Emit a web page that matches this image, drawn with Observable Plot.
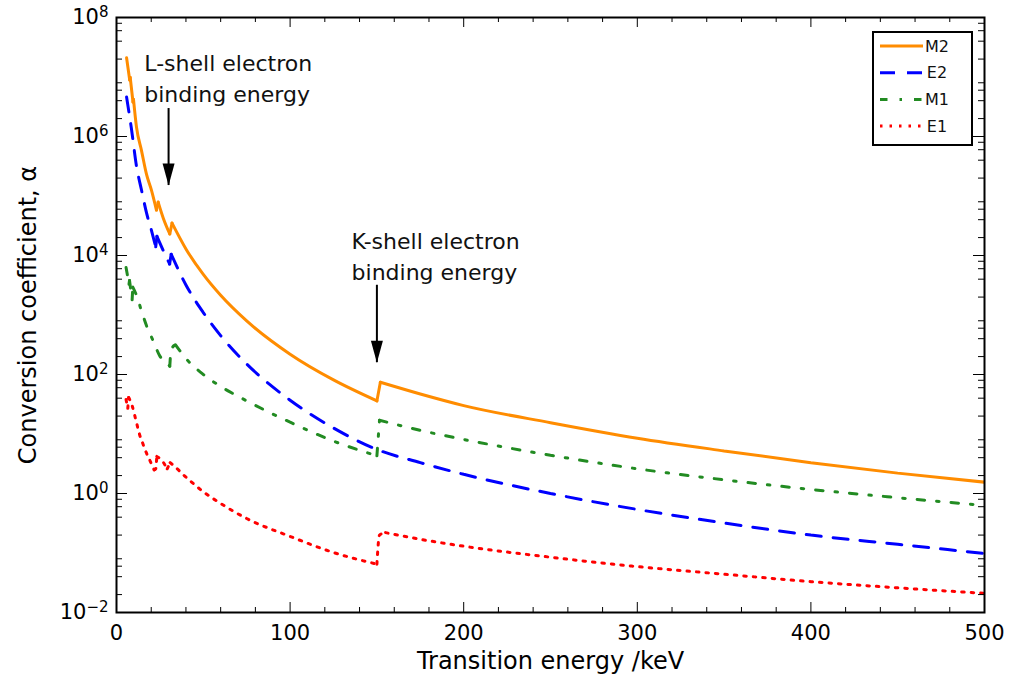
<!DOCTYPE html>
<html><head><meta charset="utf-8">
<script src="https://cdn.jsdelivr.net/npm/d3@7"></script>
<script src="https://cdn.jsdelivr.net/npm/@observablehq/plot@0.6"></script>
<style>body{margin:0;background:#fff;} svg{display:block;}</style>
</head><body><div id="chart"></div>
<script>
// ---- Series data (transition energy in keV, conversion coefficient alpha) ----
const seriesNames = ["M2", "E2", "M1", "E1"];
const seriesColors = ["#ff8c00", "#0000ff", "#228b22", "#ff0000"];
const seriesDash = [null, "15,12", "7.5,12,2.5,12", "2.5,7"];

const m2Energy = [5.8, 7.6, 7.9, 9.5, 9.8, 11.5, 14.4, 17.3, 20.2, 23.0, 24.0, 27.0, 30.7, 32.0, 40, 50, 60, 75, 100, 125, 150, 152, 175, 200, 250, 300, 350, 400, 450, 500];
const m2Alpha  = [2.1e7, 8.9e6, 9.8e6, 3.8e6, 4.2e6, 1.45e6, 5.8e5, 2.3e5, 1.23e5, 5.8e4, 7.9e4, 4.2e4, 2.3e4, 3.5e4, 1.29e4, 4.8e3, 2.14e3, 794, 219, 81, 36, 74, 47, 30, 15.5, 8.5, 5.2, 3.3, 2.2, 1.55];

const e2Energy = [5.8, 8.6, 11.5, 14.4, 17.3, 20.2, 22.6, 23.3, 27.0, 30.6, 31.5, 40, 50, 60, 75, 100, 125, 150, 175, 200, 250, 300, 350, 400, 450, 500];
const e2Alpha  = [4.6e6, 1.35e6, 3.2e5, 1.26e5, 5.2e4, 2.6e4, 1.4e4, 2.1e4, 1.2e4, 7.2e3, 1.05e4, 3.2e3, 1.1e3, 450, 150, 37, 12.6, 5.5, 3.3, 2.1, 1.0, 0.54, 0.32, 0.2, 0.14, 0.098];

const m1Energy = [5.5, 7.2, 7.5, 9.0, 9.4, 11.5, 14.4, 17.3, 21.1, 25, 28, 30.7, 31.5, 34, 40, 50, 60, 75, 100, 125, 150, 151.5, 175, 200, 250, 300, 350, 400, 450, 500];
const m1Alpha  = [6.3e3, 3.3e3, 3.8e3, 1.8e3, 2.95e3, 2.15e3, 1.17e3, 660, 370, 204, 166, 138, 263, 316, 186, 100, 63, 36, 15.8, 7.6, 4.3, 17, 11.5, 8.1, 4.4, 2.6, 1.7, 1.17, 0.85, 0.63];

const e1Energy = [5.5, 6.5, 7.0, 9.0, 10.4, 11.7, 13.2, 15, 17.1, 19.4, 21.7, 22.6, 23.2, 26.1, 29.2, 30.9, 35, 39, 43, 50, 60, 75, 100, 125, 150, 151.5, 155, 175, 200, 250, 300, 350, 400, 450, 500];
const e1Alpha  = [38, 27, 41, 30, 21, 14.8, 10, 7.1, 4.9, 3.5, 2.5, 2.6, 4.2, 3.6, 2.6, 3.3, 2.6, 2.0, 1.58, 1.07, 0.68, 0.38, 0.19, 0.102, 0.065, 0.2, 0.22, 0.17, 0.13, 0.085, 0.059, 0.044, 0.033, 0.026, 0.021];

// ---- Axis ticks ----
const xMajorTicks = [0, 100, 200, 300, 400, 500];
const xMinorTicks = [20, 40, 60, 80, 120, 140, 160, 180, 220, 240, 260, 280, 320, 340, 360, 380, 420, 440, 460, 480];
const yMajorTicks = [1e-2, 1e0, 1e2, 1e4, 1e6, 1e8];
const yMinorTicks = [-2, -1, 0, 1, 2, 3, 4, 5, 6, 7].flatMap(k => [2, 4, 6, 8].map(m => m * Math.pow(10, k)));

// ---- Annotations ----
const annotationTexts = ["L-shell electron\nbinding energy", "K-shell electron\nbinding energy"];
const annotationX = [16, 135.4];
const annotationY = [3.0e7, 3.0e4];
const arrowX = [30, 150];
const arrowFrom = [2.95e6, 3.16e3];
const arrowTo = [1.5e5, 158];

const xLabel = "Transition energy /keV";
const yLabel = "Conversion coefficient, \u03b1";

// ---- Build ----
const W = 1010, H = 689, mL = 116, mR = 26, mT = 17, mB = 77;
const plotW = W - mL - mR, plotH = H - mT - mB;
const FONT = "DejaVu Sans";

// split each series into monotonic pieces so that absorption-edge jumps keep sharp corners
function pieces(es, as, name) {
  const rows = [];
  let seg = 0, dir = 0;
  for (let i = 0; i < es.length; i++) {
    if (i > 0) {
      const d = Math.sign(as[i] - as[i - 1]);
      if (dir !== 0 && d !== dir) { seg++; rows.push({e: es[i - 1], a: as[i - 1], z: name + seg}); }
      dir = d;
    }
    rows.push({e: es[i], a: as[i], z: name + seg});
  }
  return rows;
}
const series = [
  [m2Energy, m2Alpha], [e2Energy, e2Alpha], [m1Energy, m1Alpha], [e1Energy, e1Alpha]
].map(([es, as], k) => pieces(es, as, seriesNames[k]));

const downTriangle = {
  draw(ctx) { ctx.moveTo(-6, -22); ctx.lineTo(6, -22); ctx.lineTo(0, 0); ctx.closePath(); }
};

const arrows = arrowX.map((x, i) => ({x, y1: arrowFrom[i], y2: arrowTo[i]}));
const notes = annotationTexts.map((t, i) => ({t, x: annotationX[i], y: annotationY[i]}));

const marks = [];
for (let k = series.length - 1; k >= 0; k--) {
  marks.push(Plot.line(series[k], {
    x: "e", y: "a", z: "z", stroke: seriesColors[k], strokeWidth: 3, curve: "monotone-x",
    strokeDasharray: seriesDash[k] ?? undefined, strokeLinejoin: "miter", clip: true
  }));
}
marks.push(
  Plot.ruleX(xMajorTicks, {stroke: "black", strokeWidth: 1, insetTop: plotH - 10}),
  Plot.ruleX(xMajorTicks, {stroke: "black", strokeWidth: 1, insetBottom: plotH - 10}),
  Plot.ruleX(xMinorTicks, {stroke: "black", strokeWidth: 1, insetTop: plotH - 5}),
  Plot.ruleX(xMinorTicks, {stroke: "black", strokeWidth: 1, insetBottom: plotH - 5}),
  Plot.ruleY(yMajorTicks, {stroke: "black", strokeWidth: 1, insetRight: plotW - 11}),
  Plot.ruleY(yMajorTicks, {stroke: "black", strokeWidth: 1, insetLeft: plotW - 11}),
  Plot.ruleY(yMinorTicks, {stroke: "black", strokeWidth: 1, insetRight: plotW - 6}),
  Plot.ruleY(yMinorTicks, {stroke: "black", strokeWidth: 1, insetLeft: plotW - 6}),
  Plot.frame({stroke: "black", strokeWidth: 2}),
  Plot.axisX({ticks: xMajorTicks, tickSize: 0, tickPadding: 13, fontSize: 21, tickFormat: d => `${d}`, label: null}),
  Plot.axisY({ticks: yMajorTicks, tickSize: 0, tickPadding: 8, fontSize: 21, tickFormat: d => `10^${Math.round(Math.log10(d))}`, label: null}),
  Plot.text([xLabel], {frameAnchor: "bottom", dy: 56, text: d => d, fontSize: 24, textAnchor: "middle"}),
  Plot.text([yLabel], {frameAnchor: "left", dx: -88, rotate: -90, text: d => d, fontSize: 24, textAnchor: "middle"}),
  Plot.text(notes, {x: "x", y: "y", text: "t", textAnchor: "start", lineAnchor: "top", lineHeight: 1.41, fontSize: 22, fill: "#111"}),
  Plot.ruleX(arrows, {x: "x", y1: "y1", y2: "y2", stroke: "black", strokeWidth: 2}),
  Plot.dot(arrows, {x: "x", y: "y2", symbol: downTriangle, fill: "black", stroke: "none", r: 5})
);

const svg = Plot.plot({
  width: W, height: H,
  marginLeft: mL, marginRight: mR, marginTop: mT, marginBottom: mB,
  style: {fontFamily: FONT, fontSize: "21px", background: "white", color: "black"},
  x: {domain: [0, 500], label: null},
  y: {type: "log", domain: [1e-2, 1e8], label: null},
  marks
});
document.getElementById("chart").appendChild(svg);

// superscript exponents on y tick labels
const s = d3.select(svg);
s.selectAll('g[aria-label="y-axis tick label"] text').each(function () {
  const t = d3.select(this);
  const [base, exp] = t.text().split("^");
  t.text(null);
  t.append("tspan").text(base);
  t.append("tspan").attr("dy", "-0.45em").attr("font-size", "15px").text(exp.replace("-", "\u2212"));
});

// legend
const lg = s.append("g").attr("font-family", FONT);
lg.append("rect").attr("x", 873).attr("y", 32).attr("width", 99).attr("height", 113)
  .attr("fill", "white").attr("stroke", "black").attr("stroke-width", 2);
seriesNames.forEach((name, i) => {
  const cy = 46 + i * 26.7;
  lg.append("line").attr("x1", 880).attr("x2", 923).attr("y1", cy).attr("y2", cy)
    .attr("stroke", seriesColors[i]).attr("stroke-width", 3)
    .attr("stroke-dasharray", seriesDash[i]);
  lg.append("text").attr("x", 937).attr("y", cy).attr("dy", "0.36em")
    .attr("font-size", "16px").attr("fill", "#111").text(name);
});
</script>
</body></html>
